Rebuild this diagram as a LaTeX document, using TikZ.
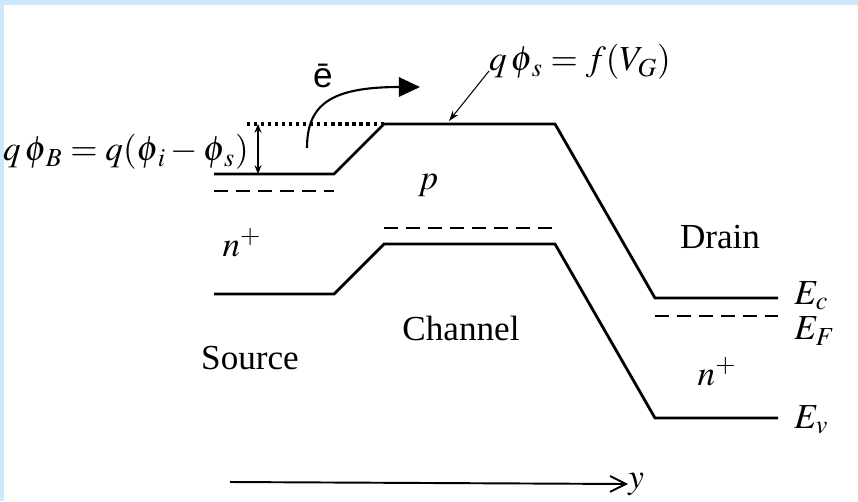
\documentclass[tikz,border=0pt]{standalone}
\usepackage{mathptmx}
\usepackage{fontspec}
\setmainfont{Liberation Serif}
\newfontfamily\arialfont{Liberation Sans}
\usetikzlibrary{arrows.meta}
\definecolor{framebg}{HTML}{CCE9FC}

\begin{document}
\begin{tikzpicture}[x=0.02cm,y=-0.02cm,>=Latex]
\tikzstyle{band}=[line width=1.6pt]
\tikzstyle{fermi}=[line width=1.6pt,dash pattern=on 8pt off 4.5pt]
\tikzstyle{lbl}=[font=\fontsize{20}{24}\selectfont,inner sep=0pt]
\tikzstyle{thinarrow}=[line width=0.6pt,-{Stealth[length=6pt,width=4pt]}]
% frame
\fill[framebg] (0,0) rectangle (858,501);
\fill[white] (4,5) rectangle (858,501);
\useasboundingbox (0,0) rectangle (858,501);

% band edges
\draw[band] (214,174) -- (334,174) -- (384,124) -- (555,124) -- (655,298) -- (778,298);
\draw[band] (214,294) -- (334,294) -- (384,244) -- (555,244) -- (655,418) -- (778,418);
\foreach \xa/\xb/\yy in {214/334/191, 384/558/228, 655/778/316}{
    \draw[fermi] (\xa,\yy) -- (\xb,\yy);
}
\draw[line width=1.8pt,dash pattern=on 1.8pt off 2.2pt] (247,124) -- (384,124);

% labels
\node[lbl] (phib) at (126,152) {$q\,\phi_{\mkern2mu B} = q(\phi_{\mkern2mu i} - \phi_{\mkern2mu s})$};
\node[lbl] (phis) at (580,62) {$q\,\phi_{\mkern2mu s} = f(V_G)$};
\node[lbl] (pl) at (428,185) {$p$};
\node[lbl] (nsrc) at (242,243) {$n^+$};
\node[lbl] (drain) at (720,237) {Drain};
\node[lbl] (chan) at (461,328) {Channel};
\node[lbl] (src) at (250,358) {Source};
\node[lbl] (ndrn) at (717,372) {$n^+$};
\node[lbl,anchor=west] (ec) at (794,296) {$E_c$};
\node[lbl,anchor=west] (ef) at (794,331) {$E_F$};
\node[lbl,anchor=west] (ev) at (794,420) {$E_v$};
\node[lbl,anchor=west] (ylab) at (628,484) {$y$};
\node[font=\arialfont\fontsize{20}{22}\selectfont,inner sep=0pt] (elec) at (323,76) {ē};

% barrier height
\coordinate (bartop) at (258,124);
\coordinate (barbot) at (258,174);
\draw[line width=0.6pt,{Stealth[length=5pt,width=4pt]}-{Stealth[length=5pt,width=4pt]}] (bartop) -- (barbot);

% electron path
\coordinate (estart) at (307,148);
\coordinate (eend) at (420,87);
\draw[line width=1.2pt,-{Triangle[length=12pt,width=11pt]}] (estart) .. controls (307,105) and (330,87) .. (eend);

% surface potential pointer
\coordinate (phistail) at (489,71);
\coordinate (phishead) at (449,121);
\draw[thinarrow] (phistail) -- (phishead);

% position axis
\coordinate (yorig) at (230,482);
\draw[line width=1.1pt,-{Straight Barb[length=9pt,width=9pt]}] (yorig) -- (ylab.west);
\end{tikzpicture}
\end{document}
